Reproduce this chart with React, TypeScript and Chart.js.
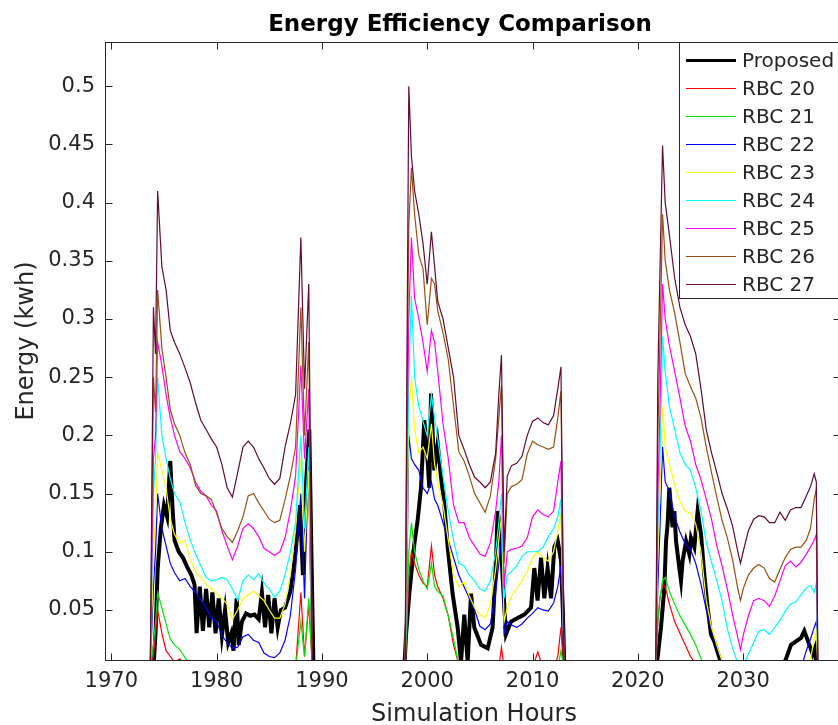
import React, { useEffect, useRef } from "react";
import { Chart, registerables } from "chart.js";

Chart.register(...registerables);

const FONT_FAMILY = "DejaVu Sans";
const INK = "#262626";

const TITLE = "Energy Efficiency Comparison";
const X_TITLE = "Simulation Hours";
const Y_TITLE = "Energy (kwh)";

const X_MIN = 1969.4;
const X_MAX = 2039.2;
const X_STEP = 10;
const Y_MIN = 0.007;
const Y_MAX = 0.538;
const Y_STEP = 0.05;

// Hour stamps shared by every rule-based controller run (three occupied blocks)
const RBC_HOURS = [
  1973.7, 1974.0, 1974.2, 1974.4, 1974.8, 1975.2, 1975.6, 1976.0, 1976.5, 1977.0,
  1977.5, 1978.0, 1978.5, 1979.0, 1979.5, 1980.0, 1980.5, 1981.0, 1981.5, 1982.0,
  1982.5, 1983.0, 1983.5, 1984.0, 1984.5, 1985.0, 1985.5, 1986.0, 1986.5, 1987.0,
  1987.5, 1988.0, 1988.35, 1988.75, 1989.1,
  1997.9, 1998.1, 1998.25, 1998.5, 1998.8, 1999.2, 1999.6, 2000.0, 2000.4, 2000.7,
  2001.0, 2001.5, 2002.0, 2002.5, 2003.0, 2003.5, 2004.0, 2004.5, 2005.0, 2005.5,
  2006.0, 2006.5, 2006.8, 2007.05, 2007.3, 2007.6, 2008.0, 2008.5, 2009.0, 2009.5,
  2010.0, 2010.5, 2011.0, 2011.5, 2012.0, 2012.4, 2012.7, 2013.0,
  2021.7, 2021.9, 2022.1, 2022.35, 2022.6, 2023.0, 2023.5, 2024.0, 2024.5, 2025.0,
  2025.5, 2026.0, 2026.5, 2027.0, 2027.5, 2028.0, 2028.5, 2029.0, 2029.5, 2029.75,
  2030.0, 2030.5, 2031.0, 2031.5, 2032.0, 2032.5, 2033.0, 2033.5, 2034.0, 2034.5,
  2035.0, 2035.5, 2036.0, 2036.4, 2036.75, 2036.95, 2037.1,
];

const RBC_20 = [
  0, 0.01, 0.03, 0.05, 0.03, 0.015, 0.01, 0.005, 0.008, 0,
  0, 0, 0, 0, 0, 0, 0, 0, 0, 0,
  0, 0, 0, 0, 0, 0, 0, 0, 0, 0,
  0, 0.065, 0.01, 0.055, 0,
  0, 0.04, 0.08, 0.1, 0.09, 0.08, 0.073, 0.07, 0.105, 0.08,
  0.07, 0.06, 0.045, 0.02, 0.003, 0, 0, 0, 0, 0,
  0, 0, 0, 0.018, 0, 0, 0, 0, 0, 0,
  0, 0.014, 0, 0, 0, 0.01, 0.035, 0,
  0, 0.04, 0.06, 0.072, 0.07, 0.055, 0.04, 0.03, 0.02, 0.01,
  0.004, 0, 0, 0, 0, 0, 0, 0, 0, 0,
  0, 0, 0, 0, 0, 0, 0, 0, 0, 0,
  0, 0, 0, 0, 0, 0, 0,
];

const RBC_21 = [
  0, 0.02, 0.04, 0.065, 0.052, 0.038, 0.025, 0.02, 0.016, 0.009,
  0.003, 0, 0, 0, 0, 0, 0, 0, 0, 0,
  0, 0, 0, 0, 0, 0, 0, 0, 0, 0,
  0, 0.04, 0.01, 0.06, 0,
  0, 0.05, 0.1, 0.125, 0.1, 0.085, 0.075, 0.068, 0.09, 0.07,
  0.066, 0.062, 0.045, 0.025, 0.003, 0, 0, 0, 0, 0,
  0, 0, 0, 0, 0, 0, 0, 0, 0, 0,
  0, 0, 0, 0, 0, 0, 0.015, 0,
  0, 0.04, 0.06, 0.075, 0.078, 0.066, 0.055, 0.045, 0.037, 0.029,
  0.02, 0.008, 0, 0, 0, 0, 0, 0, 0, 0,
  0, 0, 0, 0, 0, 0, 0, 0, 0, 0,
  0, 0, 0, 0, 0, 0, 0,
];

const RBC_22 = [
  0, 0.07, 0.1, 0.15, 0.12, 0.105, 0.09, 0.082, 0.075, 0.077,
  0.07, 0.065, 0.059, 0.052, 0.043, 0.04, 0.028, 0.022, 0.017, 0.018,
  0.027, 0.029, 0.024, 0.022, 0.013, 0.01, 0.009, 0.013, 0.024, 0.045,
  0.085, 0.15, 0.06, 0.185, 0,
  0, 0.1, 0.2, 0.18, 0.175, 0.17, 0.155, 0.15, 0.16, 0.145,
  0.14, 0.125, 0.11, 0.095, 0.08, 0.07, 0.06, 0.05, 0.036, 0.033,
  0.038, 0.065, 0.09, 0.11, 0.03, 0.04, 0.037, 0.035, 0.038, 0.043,
  0.047, 0.052, 0.05, 0.049, 0.056, 0.07, 0.088, 0,
  0, 0.07, 0.12, 0.19, 0.16, 0.152, 0.13, 0.117, 0.107, 0.102,
  0.09, 0.072, 0.05, 0.033, 0.018, 0.006, 0, 0, 0, 0,
  0, 0, 0, 0, 0, 0, 0, 0, 0, 0,
  0, 0, 0.015, 0.025, 0.035, 0.04, 0,
];

const RBC_23 = [
  0, 0.1, 0.13, 0.185, 0.17, 0.155, 0.128, 0.115, 0.107, 0.11,
  0.093, 0.083, 0.078, 0.072, 0.068, 0.064, 0.06, 0.055, 0.042, 0.05,
  0.06, 0.063, 0.066, 0.062, 0.058, 0.05, 0.043, 0.043, 0.055, 0.08,
  0.12, 0.18, 0.1, 0.17, 0,
  0, 0.12, 0.22, 0.25, 0.205, 0.185, 0.19, 0.18, 0.21, 0.175,
  0.16, 0.14, 0.11, 0.08, 0.07, 0.074, 0.062, 0.052, 0.046, 0.043,
  0.055, 0.085, 0.11, 0.13, 0.04, 0.052, 0.062, 0.068, 0.075, 0.083,
  0.095, 0.1, 0.095, 0.092, 0.1, 0.118, 0.133, 0,
  0, 0.1, 0.15, 0.225, 0.19, 0.175, 0.157, 0.143, 0.135, 0.133,
  0.124, 0.1, 0.058, 0.035, 0.02, 0.006, 0, 0, 0, 0,
  0, 0, 0, 0, 0, 0, 0, 0, 0, 0,
  0, 0, 0, 0.008, 0.025, 0.033, 0,
];

const RBC_24 = [
  0, 0.15, 0.18, 0.25, 0.2, 0.18, 0.163, 0.15, 0.143, 0.125,
  0.11, 0.098, 0.088, 0.078, 0.075, 0.076, 0.078, 0.076, 0.068, 0.058,
  0.075, 0.08, 0.076, 0.081, 0.073, 0.068, 0.061, 0.066, 0.08, 0.1,
  0.125, 0.2, 0.12, 0.19, 0,
  0, 0.15, 0.25, 0.32, 0.25, 0.225, 0.212, 0.2, 0.235, 0.215,
  0.197, 0.165, 0.135, 0.11, 0.09, 0.088, 0.08, 0.075, 0.068, 0.066,
  0.075, 0.1, 0.125, 0.15, 0.06, 0.08, 0.083, 0.088, 0.096, 0.1,
  0.1, 0.1, 0.104, 0.113, 0.12, 0.13, 0.145, 0,
  0, 0.12, 0.18, 0.285, 0.255, 0.225, 0.205, 0.185, 0.175, 0.17,
  0.155, 0.135, 0.108, 0.091, 0.075, 0.058, 0.034, 0.017, 0.004, 0,
  0.002, 0.012, 0.022, 0.032, 0.033, 0.029, 0.035, 0.041, 0.049, 0.055,
  0.057, 0.063, 0.069, 0.071, 0.065, 0.073, 0,
];

const RBC_25 = [
  0, 0.18, 0.2, 0.28, 0.26, 0.235, 0.215, 0.2, 0.186, 0.18,
  0.172, 0.16, 0.152, 0.148, 0.14, 0.135, 0.118, 0.105, 0.093, 0.105,
  0.12, 0.124, 0.12, 0.113, 0.103, 0.1, 0.097, 0.1, 0.112, 0.135,
  0.165, 0.26, 0.18, 0.24, 0,
  0, 0.2, 0.3, 0.37, 0.318, 0.3, 0.28, 0.255, 0.29, 0.28,
  0.255, 0.21, 0.18, 0.14, 0.125, 0.125, 0.112, 0.105, 0.098, 0.096,
  0.108, 0.135, 0.16, 0.2, 0.07, 0.1, 0.102, 0.103, 0.105, 0.112,
  0.13, 0.136, 0.132, 0.13, 0.135, 0.16, 0.178, 0,
  0, 0.15, 0.22, 0.33, 0.3, 0.277, 0.255, 0.232, 0.208, 0.195,
  0.175, 0.162, 0.145, 0.128, 0.105, 0.088, 0.068, 0.046, 0.026, 0.016,
  0.028, 0.045, 0.058, 0.06, 0.058, 0.053, 0.062, 0.075, 0.088, 0.092,
  0.087, 0.091, 0.098, 0.104, 0.11, 0.115, 0,
];

const RBC_26 = [
  0, 0.25, 0.22, 0.325, 0.275, 0.25, 0.222, 0.21, 0.2, 0.185,
  0.175, 0.157, 0.15, 0.148, 0.145, 0.133, 0.12, 0.113, 0.108, 0.118,
  0.13, 0.148, 0.15, 0.142, 0.135, 0.128, 0.125, 0.127, 0.145, 0.165,
  0.19, 0.31, 0.2, 0.28, 0,
  0, 0.25, 0.38, 0.43, 0.39, 0.355, 0.343, 0.295, 0.335, 0.33,
  0.307, 0.288, 0.265, 0.225, 0.186, 0.178, 0.165, 0.15, 0.142, 0.134,
  0.148, 0.18, 0.215, 0.243, 0.09, 0.15, 0.156, 0.158, 0.162, 0.184,
  0.195, 0.192, 0.19, 0.188, 0.19, 0.215, 0.238, 0,
  0, 0.2, 0.28, 0.39, 0.35, 0.325, 0.305, 0.28, 0.253, 0.242,
  0.232, 0.215, 0.19, 0.168, 0.147, 0.127, 0.112, 0.093, 0.068, 0.058,
  0.068, 0.08, 0.086, 0.089, 0.086, 0.077, 0.074, 0.085, 0.095, 0.102,
  0.104, 0.104, 0.11, 0.12, 0.145, 0.154, 0,
];

const RBC_27 = [
  0, 0.31, 0.27, 0.41, 0.345, 0.325, 0.29, 0.28, 0.27, 0.258,
  0.245, 0.228, 0.213, 0.205, 0.197, 0.19, 0.175, 0.155, 0.147, 0.168,
  0.19, 0.195, 0.19, 0.18, 0.172, 0.163, 0.158, 0.163, 0.19, 0.21,
  0.235, 0.37, 0.24, 0.33, 0,
  0, 0.3, 0.5, 0.44, 0.41, 0.39, 0.365, 0.33, 0.375, 0.345,
  0.315, 0.3, 0.275, 0.25, 0.2, 0.188, 0.175, 0.164, 0.16, 0.155,
  0.16, 0.185, 0.235, 0.269, 0.1, 0.165, 0.174, 0.176, 0.182, 0.2,
  0.212, 0.215, 0.211, 0.209, 0.217, 0.24, 0.259, 0,
  0, 0.25, 0.34, 0.449, 0.4, 0.372, 0.335, 0.31, 0.295, 0.285,
  0.27, 0.24, 0.205, 0.185, 0.168, 0.15, 0.137, 0.122, 0.1, 0.09,
  0.1, 0.118, 0.128, 0.131, 0.13, 0.125, 0.125, 0.134, 0.127, 0.136,
  0.138, 0.138, 0.148, 0.156, 0.167, 0.16, 0,
];

// The proposed controller is logged on its own, finer hour grid
const PROPOSED_HOURS = [
  1974.0, 1974.2, 1974.4, 1974.7, 1975.0, 1975.3, 1975.6, 1975.8, 1976.0, 1976.4,
  1976.8, 1977.2, 1977.6, 1977.9, 1978.1, 1978.4, 1978.7, 1979.0, 1979.3, 1979.6,
  1979.9, 1980.2, 1980.5, 1980.8, 1981.1, 1981.4, 1981.6, 1981.9, 1982.1, 1982.4,
  1982.8, 1983.2, 1983.6, 1984.0, 1984.3, 1984.6, 1984.9, 1985.2, 1985.5, 1985.8,
  1986.1, 1986.5, 1987.0, 1987.5, 1987.9, 1988.2, 1988.5, 1988.8, 1989.0, 1989.2,
  1997.83, 1997.99, 1998.3, 1998.78, 1999.09, 1999.41, 1999.72, 2000.04, 2000.2, 2000.36,
  2000.67, 2000.99, 2001.31, 2001.62, 2001.94, 2002.41, 2002.89, 2003.21, 2003.52, 2003.84,
  2004.16, 2004.47, 2005.11, 2005.74, 2006.21, 2006.53, 2006.69, 2006.94, 2007.16, 2007.48,
  2007.96, 2008.58, 2009.22, 2009.86, 2010.17, 2010.48, 2010.81, 2011.12, 2011.43, 2011.76,
  2012.07, 2012.38, 2012.71, 2012.88, 2013.02,
  2021.66, 2021.88, 2022.2, 2022.52, 2022.68, 2022.83, 2022.99, 2023.3, 2023.47, 2023.63,
  2023.94, 2024.1, 2024.25, 2024.58, 2024.89, 2025.05, 2025.37, 2025.68, 2026.0, 2026.31,
  2026.63, 2026.95, 2027.26, 2027.74, 2028.1, 2033.72, 2034.07, 2034.55, 2035.02, 2035.5,
  2035.81, 2036.29, 2036.6, 2036.83, 2036.95,
];

const PROPOSED = [
  0, 0.03, 0.085, 0.12, 0.14, 0.13, 0.178, 0.14, 0.11, 0.1,
  0.095, 0.087, 0.08, 0.072, 0.03, 0.07, 0.032, 0.068, 0.035, 0.065,
  0.03, 0.06, 0.028, 0.05, 0.022, 0.03, 0.015, 0.06, 0.02, 0.04,
  0.047, 0.045, 0.046, 0.042, 0.065, 0.035, 0.063, 0.03, 0.06, 0.035,
  0.05, 0.052, 0.066, 0.1, 0.14, 0.08, 0.16, 0.205, 0.1, 0,
  0, 0.029, 0.064, 0.107, 0.127, 0.155, 0.213, 0.178, 0.155, 0.236,
  0.17, 0.193, 0.164, 0.141, 0.104, 0.064, 0.035, 0.005, 0.046, 0.005,
  0.064, 0.035, 0.02, 0.017, 0.035, 0.092, 0.135, 0.12, 0.078, 0.029,
  0.04, 0.043, 0.046, 0.052, 0.086, 0.058, 0.095, 0.06, 0.086, 0.06,
  0.104, 0.11, 0.092, 0.05, 0,
  0, 0.009, 0.035, 0.069, 0.109, 0.124, 0.155, 0.121, 0.135, 0.109,
  0.086, 0.075, 0.092, 0.109, 0.098, 0.112, 0.104, 0.135, 0.115, 0.081,
  0.052, 0.029, 0.023, 0.009, 0, 0, 0.008, 0.02, 0.023, 0.026,
  0.032, 0.02, 0.012, 0.0175, 0,
];

const RBC_LABELS = ["RBC 20", "RBC 21", "RBC 22", "RBC 23", "RBC 24", "RBC 25", "RBC 26", "RBC 27"];
const RBC_COLORS = ["#ff0000", "#00e600", "#0000ff", "#ffff00", "#00ffff", "#ff00ff", "#9c4f12", "#650a36"];
const RBC_VALUES = [RBC_20, RBC_21, RBC_22, RBC_23, RBC_24, RBC_25, RBC_26, RBC_27];

const PROPOSED_LABEL = "Proposed";
const PROPOSED_COLOR = "#000000";
const PROPOSED_WIDTH = 4;
const RBC_WIDTH = 1.2;

const zip = (xs: number[], ys: number[]) => xs.map((x, i) => ({ x, y: ys[i] }));

const font = (size: number, weight = "normal") => `${weight} ${size}px "${FONT_FAMILY}"`;

// Box, inward tick marks, in-axes legend and the three titles
const decorations = {
  id: "decorations",
  afterDraw(chart: any) {
    const { ctx, chartArea: a, scales } = chart;
    const L = Math.round(a.left) + 0.5;
    const T = Math.round(a.top) + 0.5;
    const R = Math.round(a.right) + 0.5;
    const B = Math.round(a.bottom) + 0.5;
    ctx.save();

    ctx.strokeStyle = INK;
    ctx.lineWidth = 1;
    ctx.beginPath();
    for (const t of scales.x.ticks) {
      const px = Math.round(scales.x.getPixelForValue(t.value)) + 0.5;
      ctx.moveTo(px, B);
      ctx.lineTo(px, B - 7);
      ctx.moveTo(px, T);
      ctx.lineTo(px, T + 7);
    }
    for (const t of scales.y.ticks) {
      const py = Math.round(scales.y.getPixelForValue(t.value)) + 0.5;
      ctx.moveTo(L, py);
      ctx.lineTo(L + 7, py);
      ctx.moveTo(R, py);
      ctx.lineTo(R - 7, py);
    }
    ctx.stroke();
    ctx.strokeRect(L, T, R - L, B - T);

    // legend
    const lx = 679.5;
    const lh = 256;
    ctx.fillStyle = "#ffffff";
    ctx.fillRect(lx, T, 300, lh);
    ctx.strokeStyle = INK;
    ctx.strokeRect(lx, T, 300, lh);
    const entries = [
      { label: PROPOSED_LABEL, color: PROPOSED_COLOR, width: 3 },
      ...RBC_LABELS.map((label, i) => ({ label, color: RBC_COLORS[i], width: RBC_WIDTH })),
    ];
    ctx.font = font(20);
    ctx.textAlign = "left";
    ctx.textBaseline = "middle";
    entries.forEach((e, i) => {
      const y = T + 18 + i * 28;
      ctx.strokeStyle = e.color;
      ctx.lineWidth = e.width;
      ctx.beginPath();
      ctx.moveTo(686, y);
      ctx.lineTo(736, y);
      ctx.stroke();
      ctx.fillStyle = INK;
      ctx.fillText(e.label, 742, y + 1);
    });

    // titles
    ctx.fillStyle = "#000000";
    ctx.font = font(23, "bold");
    ctx.textAlign = "center";
    ctx.textBaseline = "alphabetic";
    ctx.fillText(TITLE, 460, 31);

    ctx.fillStyle = INK;
    ctx.font = font(24);
    ctx.fillText(X_TITLE, 474, 721);

    ctx.translate(33, 341);
    ctx.rotate(-Math.PI / 2);
    ctx.fillText(Y_TITLE, 0, 0);

    ctx.restore();
  },
};

export default function App() {
  const canvasRef = useRef<HTMLCanvasElement>(null);

  useEffect(() => {
    const canvas = canvasRef.current;
    if (!canvas) return;

    const common = { pointRadius: 0, tension: 0, fill: false, clip: 0 };
    const datasets: any[] = [
      {
        ...common,
        label: PROPOSED_LABEL,
        data: zip(PROPOSED_HOURS, PROPOSED),
        borderColor: PROPOSED_COLOR,
        borderWidth: PROPOSED_WIDTH,
        order: 20,
      },
      ...RBC_LABELS.map((label, i) => ({
        ...common,
        label,
        data: zip(RBC_HOURS, RBC_VALUES[i]),
        borderColor: RBC_COLORS[i],
        borderWidth: RBC_WIDTH,
        order: 10 - i,
      })),
    ];

    const tickFont = { family: FONT_FAMILY, size: 21 };

    const chart = new Chart(canvas, {
      type: "line",
      data: { datasets },
      plugins: [decorations],
      options: {
        responsive: false,
        animation: false,
        devicePixelRatio: 1,
        layout: { padding: { top: 42, right: 20, left: 0, bottom: 0 } },
        plugins: {
          legend: { display: false },
          title: { display: false },
          tooltip: { enabled: false },
        },
        scales: {
          x: {
            type: "linear",
            min: X_MIN,
            max: X_MAX,
            grid: { display: false, drawTicks: false },
            border: { display: false },
            ticks: {
              stepSize: X_STEP,
              includeBounds: false,
              autoSkip: false,
              maxRotation: 0,
              padding: 9,
              color: INK,
              font: tickFont,
              callback: (v: any) => String(v),
            },
            afterFit: (s: any) => {
              s.height = 65;
            },
          },
          y: {
            type: "linear",
            min: Y_MIN,
            max: Y_MAX,
            grid: { display: false, drawTicks: false },
            border: { display: false },
            ticks: {
              stepSize: Y_STEP,
              includeBounds: false,
              autoSkip: false,
              padding: 10,
              color: INK,
              font: tickFont,
              callback: (v: any) => String(+Number(v).toFixed(2)),
            },
            afterFit: (s: any) => {
              s.width = 105;
            },
          },
        },
      } as any,
    });

    return () => chart.destroy();
  }, []);

  return (
    <div
      style={{
        position: "fixed",
        left: 0,
        top: 0,
        width: 838,
        height: 725,
        overflow: "hidden",
        background: "#ffffff",
      }}
    >
      <canvas ref={canvasRef} width={860} height={725} style={{ display: "block", width: 860, height: 725 }} />
    </div>
  );
}
